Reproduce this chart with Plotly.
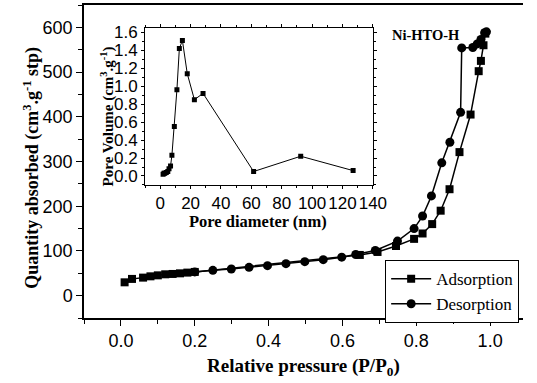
import plotly.graph_objects as go

# Adsorption isotherm (squares)
ads_p = [0.01, 0.03, 0.06, 0.08, 0.10, 0.12, 0.14, 0.16, 0.18, 0.20,
         0.647, 0.695, 0.745, 0.794, 0.817, 0.843, 0.866, 0.890, 0.917,
         0.947, 0.969, 0.975, 0.982, 0.987]
ads_q = [29.8, 37.4, 40.3, 43.2, 45.4, 47.7, 48.5, 49.9, 51.5, 53.0,
         91, 97.7, 111, 127, 139, 160, 190, 238, 321,
         405, 502, 525, 560, 586]

# Desorption isotherm (circles)
des_p = [0.99, 0.985, 0.975, 0.965, 0.953, 0.923, 0.920, 0.891, 0.869, 0.841,
         0.817, 0.794, 0.749, 0.689, 0.636, 0.598, 0.548, 0.498, 0.447,
         0.397, 0.347, 0.299, 0.249, 0.20]
des_q = [590, 588, 573, 563, 555, 554, 410, 343, 297, 223,
         178, 150, 122, 101, 92, 86, 80.5, 76, 71.6,
         67, 63.3, 59.7, 56.6, 53]

# Inset: pore size distribution
pore_d = [1.9, 2.5, 3.0, 4.0, 5.0, 5.8, 6.8, 7.7, 9.3, 11.0, 12.6, 14.6,
          17.8, 22.5, 28.2, 61.5, 92.5, 127.0]
pore_v = [0.02, 0.03, 0.03, 0.04, 0.05, 0.08, 0.11, 0.23, 0.55, 0.96, 1.42, 1.51,
          1.14, 0.85, 0.92, 0.05, 0.22, 0.06]

serif = "Liberation Serif"
sans = "Liberation Sans"

fig = go.Figure()
fig.add_trace(go.Scatter(x=ads_p, y=ads_q, mode="lines+markers", name="Adsorption",
                         line=dict(color="black", width=1.5),
                         marker=dict(symbol="square", size=8, color="black")))
fig.add_trace(go.Scatter(x=des_p, y=des_q, mode="lines+markers", name="Desorption",
                         line=dict(color="black", width=1.5),
                         marker=dict(symbol="circle", size=9, color="black")))
fig.add_trace(go.Scatter(x=pore_d, y=pore_v, mode="lines+markers", showlegend=False,
                         xaxis="x3", yaxis="y3",
                         line=dict(color="black", width=1),
                         marker=dict(symbol="square", size=5, color="black")))

fig.update_layout(
    width=537, height=383,
    margin=dict(l=84, r=0, t=5, b=65),
    paper_bgcolor="white", plot_bgcolor="white",
    font=dict(family=sans, color="black"),
    xaxis=dict(range=[-0.1, 1.089], tick0=0, dtick=0.2, tickformat=".1f",
               ticks="outside", ticklen=6, tickwidth=1.2, tickcolor="black",
               minor=dict(dtick=0.1, tick0=0, ticks="outside", ticklen=4, tickcolor="black"),
               showline=True, linecolor="black", linewidth=1.5, mirror=True,
               showgrid=False, zeroline=False, tickfont=dict(family=sans, size=18)),
    xaxis2=dict(range=[-0.1, 1.089], overlaying="x", side="top", anchor="y",
                tick0=0, dtick=0.1, ticks="inside", ticklen=4, tickcolor="black",
                showticklabels=False, showline=False, showgrid=False, zeroline=False),
    yaxis=dict(range=[-50, 650], tick0=0, dtick=100,
               ticks="outside", ticklen=6, tickwidth=1.2, tickcolor="black",
               minor=dict(dtick=50, tick0=0, ticks="outside", ticklen=4, tickcolor="black"),
               showline=True, linecolor="black", linewidth=1.5,
               showgrid=False, zeroline=False, tickfont=dict(family=sans, size=18)),
    xaxis3=dict(domain=[0.139, 0.658], anchor="y3", range=[-10, 140], tick0=0, dtick=20,
                tickangle=0,
                ticks="outside", ticklen=3, tickcolor="black",
                minor=dict(dtick=10, tick0=0, ticks="outside", ticklen=2, tickcolor="black"),
                showline=True, linecolor="black", linewidth=1, mirror="allticks",
                showgrid=False, zeroline=False, tickfont=dict(family=sans, size=17)),
    yaxis3=dict(domain=[0.425, 0.927], anchor="x3", range=[-0.1, 1.65], tick0=0, dtick=0.2,
                tickformat=".1f", ticks="outside", ticklen=3, tickcolor="black",
                minor=dict(dtick=0.1, tick0=0, ticks="outside", ticklen=2, tickcolor="black"),
                showline=True, linecolor="black", linewidth=1, mirror="allticks",
                showgrid=False, zeroline=False, tickfont=dict(family=sans, size=17)),
    legend=dict(x=0.686, y=0.185, xanchor="left", yanchor="top",
                bordercolor="black", borderwidth=1, bgcolor="white",
                font=dict(family=serif, size=17), tracegroupgap=0,
                itemwidth=40),
    showlegend=True,
)

annos = [
    dict(text="<b>Quantity absorbed (cm<sup>3</sup>.g<sup>-1</sup> stp)</b>",
         x=-0.119, y=0.479, textangle=-90, font=dict(family=serif, size=18)),
    dict(text="<b>Relative pressure (P/P<sub>0</sub>)</b>",
         x=0.501, y=-0.157, font=dict(family=serif, size=19)),
    dict(text="<b>Pore diameter (nm)</b>",
         x=0.397, y=0.307, font=dict(family=serif, size=16.5)),
    dict(text="<b>Pore Volume (cm<sup>3</sup>.g<sup>-1</sup>)</b>",
         x=0.053, y=0.645, textangle=-90, font=dict(family=serif, size=15)),
    dict(text="<b>Ni-HTO-H</b>",
         x=0.779, y=0.904, font=dict(family=serif, size=14.5)),
]
for a in annos:
    fig.add_annotation(xref="paper", yref="paper", showarrow=False,
                       xanchor="center", yanchor="middle", **a)

fig.write_html("out.html")
